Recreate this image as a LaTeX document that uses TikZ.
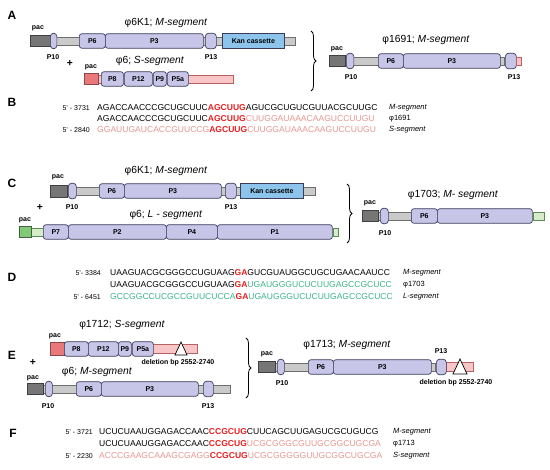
\documentclass[tikz,border=0pt]{standalone}
\usepackage{fontspec}
\setmainfont{Liberation Sans}
\usepackage{tikz}
\usetikzlibrary{decorations.pathreplacing}
\definecolor{protfill}{RGB}{200,198,232}
\definecolor{protline}{RGB}{60,60,90}
\definecolor{barfill}{RGB}{202,202,202}
\definecolor{barline}{RGB}{110,110,110}
\definecolor{pacgrey}{RGB}{118,118,118}
\definecolor{kanblue}{RGB}{140,196,235}
\definecolor{spink}{RGB}{232,120,122}
\definecolor{spinklight}{RGB}{248,198,198}
\definecolor{lgreen}{RGB}{130,200,120}
\definecolor{lgreenlight}{RGB}{214,236,200}
\definecolor{hotred}{RGB}{232,30,30}
\definecolor{seqpink}{RGB}{230,150,145}
\definecolor{seqgreen}{RGB}{60,180,135}
\newcommand{\hl}[1]{{\bfseries\color{hotred}#1}}
\newcommand{\pk}[1]{{\color{seqpink}#1}}
\newcommand{\gr}[1]{{\color{seqgreen}#1}}
\tikzset{
  prot/.style={draw=protline, fill=protfill, rounded corners=2.5pt, minimum height=14.5pt,
    inner sep=0pt, anchor=west, line width=0.7pt, font=\bfseries\fontsize{7}{8}\selectfont},
  capsule/.style={prot, rounded corners=3.2pt, minimum height=15.5pt},
  bar/.style={draw=barline, fill=barfill, minimum height=8pt, inner sep=0pt, anchor=west, line width=0.6pt},
  pacbox/.style={draw=black!75, fill=pacgrey, minimum height=11pt, inner sep=0pt, anchor=west, line width=0.7pt},
  lbl/.style={font=\bfseries\fontsize{7}{8}\selectfont, inner sep=0pt},
  ttl/.style={font=\fontsize{10.3}{12}\selectfont, inner sep=0pt},
  panel/.style={font=\bfseries\fontsize{12}{14}\selectfont, inner sep=0pt},
  seq/.style={font=\fontsize{8.55}{10}\selectfont, anchor=west, inner sep=0pt},
  posno/.style={font=\fontsize{7}{8}\selectfont, anchor=east, inner sep=0pt},
  tag/.style={font=\fontsize{7.5}{9}\selectfont, anchor=west, inner sep=0pt},
  curly/.style={decorate, decoration={brace, amplitude=5pt}, line width=0.8pt},
  delmark/.style={draw=black, fill=white, line width=0.7pt},
}
\begin{document}
\begin{tikzpicture}[x=1pt,y=-1pt]
        \useasboundingbox (0,0) rectangle (550,470);
        %Panel A
        \node[panel] (pA) at (12,15) {A};
        \node[ttl] (aTtl) at (166,23) {φ6K1; \textit{M-segment}};
        \node[bar, minimum width=243pt] (aBar) at (52,41) {};
        \node[pacbox, minimum width=20pt] (aPac) at (30,41) {};
        \node[capsule, minimum width=6.5pt] (aP10) at (50,41) {};
        \node[prot, minimum width=26pt] (aP6) at (79,41) {P6};
        \node[prot, minimum width=98pt] (aP3) at (105,41) {P3};
        \node[capsule, minimum width=11pt] (aP13) at (205,41) {};
        \node[prot, fill=kanblue, rounded corners=0pt, minimum width=62pt] (aKan) at (222,41) {Kan cassette};
        \node[lbl] at (38,28) {pac};
        \node[lbl] at (53,57) {P10};
        \node[lbl] at (211,57) {P13};
        \node[ttl] (aPlus) at (70,63) {\bfseries +};
        \node[ttl] (sTtl) at (150,61) {φ6; \textit{S-segment}};
        \node[bar, draw=spink!80!black, fill=spinklight, minimum width=136pt] (sBar) at (97,79) {};
        \node[pacbox, draw=spink!60!black, fill=spink, minimum width=14pt] (sPac) at (84,79) {};
        \node[prot, minimum width=22pt] (sP8) at (101,79) {P8};
        \node[prot, minimum width=28pt] (sP12) at (124,79) {P12};
        \node[prot, minimum width=13pt] (sP9) at (153,79) {P9};
        \node[prot, minimum width=21pt] (sP5a) at (167,79) {P5a};
        \node[lbl] at (91,67) {pac};
        \coordinate (aBraceTop) at (311,31);
        \coordinate (aBraceBot) at (311,91);
        \draw[curly] (aBraceTop) -- (aBraceBot);
        \node[ttl] (rTtl) at (426,40) {φ1691; \textit{M-segment}};
        \node[bar, minimum width=159pt] (rBar) at (345,61) {};
        \node[pacbox, minimum width=16pt] (rPac) at (329,61) {};
        \node[capsule, minimum width=7.5pt] (rP10) at (346,61) {};
        \node[prot, minimum width=25pt] (rP6) at (378,61) {P6};
        \node[prot, minimum width=97pt] (rP3) at (403,61) {P3};
        \node[capsule, minimum width=11pt] (rP13) at (505,61) {};
        \node[bar, draw=spink!80!black, fill=spinklight, minimum width=5pt] (rEnd) at (516,61) {};
        \node[lbl] at (337,49) {pac};
        \node[lbl] at (351,77) {P10};
        \node[lbl] at (514,77) {P13};
        %Panel B
        \node[panel] (pB) at (12,102) {B};
        \node[posno] at (90,108) {5' - 3731};
        \node[posno] at (90,130) {5' - 2840};
        \node[seq] (b1) at (97,108) {AGACCAACCCGCUGCUUC\hl{AGCUUG}AGUCGCUGUCGUUACGCUUGC};
        \node[seq] (b2) at (97,119) {AGACCAACCCGCUGCUUC\hl{AGCUUG}\pk{CUUGGAUAAACAAGUCCUUGU}};
        \node[seq] (b3) at (97,130) {\pk{GGAUUGAUCACCGUUCCG}\hl{AGCUUG}\pk{CUUGGAUAAACAAGUCCUUGU}};
        \node[tag] at (389,108) {\textit{M-segment}};
        \node[tag] at (389,119) {φ1691};
        \node[tag] at (389,130) {\textit{S-segment}};
        %Panel C
        \node[panel] (pC) at (12,183) {C};
        \node[ttl] (cTtl) at (166,171) {φ6K1; \textit{M-segment}};
        \node[bar, minimum width=248pt] (cBar) at (67,191) {};
        \node[pacbox, minimum width=17pt, minimum height=12pt] (cPac) at (50,191) {};
        \node[capsule, minimum width=8pt] (cP10) at (68,191) {};
        \node[prot, minimum width=25pt] (cP6) at (99,191) {P6};
        \node[prot, minimum width=97pt] (cP3) at (124,191) {P3};
        \node[capsule, minimum width=11pt] (cP13) at (225,191) {};
        \node[prot, fill=kanblue, rounded corners=0pt, minimum width=63pt] (cKan) at (240,191) {Kan cassette};
        \node[lbl] at (58,177) {pac};
        \node[lbl] at (72,207) {P10};
        \node[lbl] at (231,207) {P13};
        \node[ttl] (cPlus) at (40,207) {\bfseries +};
        \node[ttl] (lTtl) at (166,215) {φ6; \textit{L - segment}};
        \node[bar, draw=lgreen!70!black, fill=lgreenlight, minimum width=13pt] (lBar) at (31,232) {};
        \node[pacbox, draw=lgreen!50!black, fill=lgreen, minimum width=12pt] (lPac) at (19,232) {};
        \node[prot, minimum width=25pt] (lP7) at (43,232) {P7};
        \node[prot, minimum width=98pt] (lP2) at (68,232) {P2};
        \node[prot, minimum width=51pt] (lP4) at (166,232) {P4};
        \node[prot, minimum width=115pt] (lP1) at (217,232) {P1};
        \node[bar, draw=lgreen!70!black, fill=lgreenlight, minimum width=5pt] (lEnd) at (333,232) {};
        \node[lbl] at (25,220) {pac};
        \coordinate (cBraceTop) at (347,184);
        \coordinate (cBraceBot) at (347,243);
        \draw[curly] (cBraceTop) -- (cBraceBot);
        \node[ttl] (qTtl) at (453,195) {φ1703; \textit{M- segment}};
        \node[bar, minimum width=33pt] (qBar) at (378,216) {};
        \node[pacbox, minimum width=16pt] (qPac) at (362,216) {};
        \node[capsule, minimum width=8pt] (qP10) at (380,216) {};
        \node[prot, minimum width=26pt] (qP6) at (411,216) {P6};
        \node[prot, minimum width=95pt] (qP3) at (437,216) {P3};
        \node[bar, draw=lgreen!70!black, fill=lgreenlight, minimum width=11pt] (qEnd) at (533,216) {};
        \node[lbl] at (370,203) {pac};
        \node[lbl] at (385,233) {P10};
        %Panel D
        \node[panel] (pD) at (12,277) {D};
        \node[posno] at (101,273) {5'- 3384};
        \node[posno] at (101,297) {5' - 6451};
        \node[seq] (d1) at (110,273) {UAAGUACGCGGGCCUGUAAG\hl{GA}GUCGUAUGGCUGCUGAACAAUCC};
        \node[seq] (d2) at (110,285) {UAAGUACGCGGGCCUGUAAG\hl{GA}\gr{UGAUGGGUCUCUUGAGCCGCUCC}};
        \node[seq] (d3) at (110,297) {\gr{GCCGGCCUCGCCGUUCUCCA}\hl{GA}\gr{UGAUGGGUCUCUUGAGCCGCUCC}};
        \node[tag] at (403,273) {\textit{M-segment}};
        \node[tag] at (403,285) {φ1703};
        \node[tag] at (403,297) {\textit{L-segment}};
        %Panel E
        \node[panel] (pE) at (12,355) {E};
        \node[ttl] (eTtl) at (122,325) {φ1712; \textit{S-segment}};
        \node[bar, draw=spink!80!black, fill=spinklight, minimum width=134pt, minimum height=9pt] (eBar) at (63,349) {};
        \node[pacbox, draw=spink!60!black, fill=spink, minimum width=14pt, minimum height=13pt] (ePac) at (50,349) {};
        \node[prot, minimum width=24pt] (eP8) at (64,349) {P8};
        \node[prot, minimum width=30pt] (eP12) at (88,349) {P12};
        \node[prot, minimum width=13pt] (eP9) at (118,349) {P9};
        \node[prot, minimum width=21pt] (eP5a) at (132,349) {P5a};
        \draw[delmark] (181,342) -- (187,355) -- (175,355) -- cycle;
        \node[lbl] at (55,336) {pac};
        \node[lbl] (eDel) at (178,363) {deletion bp 2552-2740};
        \node[ttl] (ePlus) at (33,362) {\bfseries +};
        \node[ttl] (mTtl) at (97,372) {φ6; \textit{M-segment}};
        \node[bar, minimum width=187pt] (mBar) at (43,389) {};
        \node[pacbox, minimum width=16pt] (mPac) at (27,389) {};
        \node[capsule, minimum width=7pt] (mP10) at (45,389) {};
        \node[prot, minimum width=25pt] (mP6) at (76,389) {P6};
        \node[prot, minimum width=97pt] (mP3) at (101,389) {P3};
        \node[capsule, minimum width=10pt] (mP13) at (203,389) {};
        \node[lbl] at (33,378) {pac};
        \node[lbl] at (48,406) {P10};
        \node[lbl] at (208,406) {P13};
        \coordinate (eBraceTop) at (246,338);
        \coordinate (eBraceBot) at (246,398);
        \draw[curly] (eBraceTop) -- (eBraceBot);
        \node[ttl] (fTtl) at (347,345) {φ1713; \textit{M-segment}};
        \node[bar, minimum width=160pt] (fBar) at (275,367) {};
        \node[pacbox, minimum width=17pt] (fPac) at (258,367) {};
        \node[capsule, minimum width=7pt] (fP10) at (277,367) {};
        \node[prot, minimum width=25pt] (fP6) at (308,367) {P6};
        \node[prot, minimum width=98pt] (fP3) at (333,367) {P3};
        \node[bar, draw=spink!80!black, fill=spinklight, minimum width=27pt, minimum height=9pt] (fEnd) at (446,367) {};
        \node[capsule, minimum width=10pt] (fP13) at (436,367) {};
        \draw[delmark] (460,359) -- (467,374) -- (453,374) -- cycle;
        \node[lbl] at (267,354) {pac};
        \node[lbl] at (282,383) {P10};
        \node[lbl] at (441,351) {P13};
        \node[lbl] (fDel) at (456,383) {deletion bp 2552-2740};
        %Panel F
        \node[panel] (pF) at (13,433) {F};
        \node[posno] at (93,432) {5' - 3721};
        \node[posno] at (93,456) {5' - 2230};
        \node[seq] (f1) at (99,432) {UCUCUAAUGGAGACCAAC\hl{CCGCUG}CUUCAGCUUGAGUCGCUGUCG};
        \node[seq] (f2) at (99,444) {UCUCUAAUGGAGACCAAC\hl{CCGCUG}\pk{UCGCGGGCGUUGCGGCUGCGA}};
        \node[seq] (f3) at (99,456) {\pk{ACCCGAAGCAAAGCGAGG}\hl{CCGCUG}\pk{UCGCGGGGGUUGCGGCUGCGA}};
        \node[tag] at (393,432) {\textit{M-segment}};
        \node[tag] at (393,444) {φ1713};
        \node[tag] at (393,456) {\textit{S-segment}};
\end{tikzpicture}
\end{document}
